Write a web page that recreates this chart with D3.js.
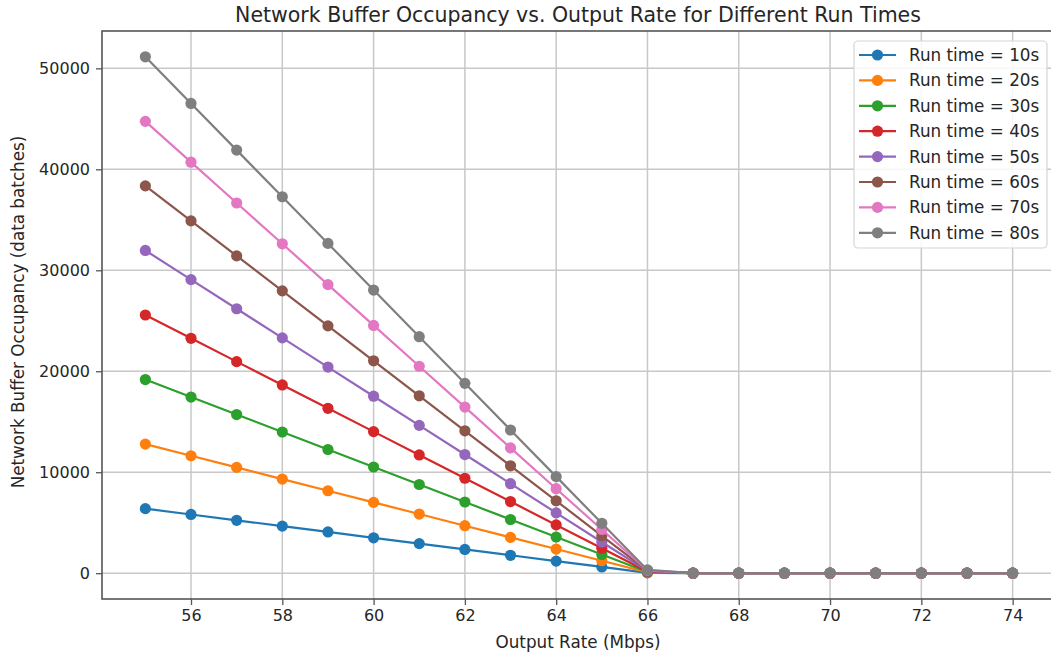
<!DOCTYPE html>
<html>
<head>
<meta charset="utf-8">
<script src="https://cdn.jsdelivr.net/npm/d3@7"></script>
<style>
  html, body { margin: 0; padding: 0; background: #fff; }
  svg { display: block; font-family: "DejaVu Sans", sans-serif; }
</style>
</head>
<body>
<svg id="chart" width="1051" height="657"></svg>
<script>
// ---- data ----
const outputRates = [55, 56, 57, 58, 59, 60, 61, 62, 63, 64, 65, 66, 67, 68, 69, 70, 71, 72, 73, 74];
const seriesNames = ["Run time = 10s", "Run time = 20s", "Run time = 30s", "Run time = 40s",
                     "Run time = 50s", "Run time = 60s", "Run time = 70s", "Run time = 80s"];
const run10 = [6393, 5815, 5238, 4660, 4083, 3505, 2928, 2350, 1773, 1195, 618, 40, 0, 0, 0, 0, 0, 0, 0, 0];
const run20 = [12786, 11631, 10476, 9321, 8166, 7011, 5856, 4701, 3546, 2391, 1236, 81, 0, 0, 0, 0, 0, 0, 0, 0];
const run30 = [19179, 17446, 15714, 13981, 12249, 10516, 8784, 7051, 5319, 3586, 1854, 121, 0, 0, 0, 0, 0, 0, 0, 0];
const run40 = [25572, 23262, 20952, 18642, 16332, 14022, 11712, 9402, 7092, 4782, 2472, 162, 0, 0, 0, 0, 0, 0, 0, 0];
const run50 = [31965, 29077, 26190, 23302, 20415, 17527, 14640, 11752, 8865, 5977, 3090, 202, 0, 0, 0, 0, 0, 0, 0, 0];
const run60 = [38358, 34892, 31427, 27962, 24497, 21032, 17567, 14102, 10637, 7172, 3707, 242, 0, 0, 0, 0, 0, 0, 0, 0];
const run70 = [44751, 40708, 36665, 32623, 28580, 24538, 20495, 16453, 12410, 8368, 4325, 283, 0, 0, 0, 0, 0, 0, 0, 0];
const run80 = [51143, 46523, 41903, 37283, 32663, 28043, 23423, 18803, 14183, 9563, 4943, 323, 0, 0, 0, 0, 0, 0, 0, 0];
const seriesValues = [run10, run20, run30, run40, run50, run60, run70, run80];
const xTicks = [56, 58, 60, 62, 64, 66, 68, 70, 72, 74];
const yTicks = [0, 10000, 20000, 30000, 40000, 50000];
const colors = ["#1f77b4", "#ff7f0e", "#2ca02c", "#d62728", "#9467bd", "#8c564b", "#e377c2", "#7f7f7f"];
const titleText = "Network Buffer Occupancy vs. Output Rate for Different Run Times";
const xLabelText = "Output Rate (Mbps)";
const yLabelText = "Network Buffer Occupancy (data batches)";

// ---- layout ----
(function () {
const svg = d3.select("#chart");
const pl = 102, pr = 1056, pt = 31, pb = 599;

const x = d3.scaleLinear().domain([54.05, 74.95]).range([pl, pr]);
const y = d3.scaleLinear().domain([-2557, 53700]).range([pb, pt]);

const textColor = "#262626";

// grid
const grid = svg.append("g");
grid.selectAll("line.vx").data(xTicks).join("line")
  .attr("x1", d => x(d)).attr("x2", d => x(d))
  .attr("y1", pt).attr("y2", pb)
  .attr("stroke", "#c8c8c8").attr("stroke-width", 1.5);
grid.selectAll("line.hy").data(yTicks).join("line")
  .attr("x1", pl).attr("x2", pr)
  .attr("y1", d => y(d)).attr("y2", d => y(d))
  .attr("stroke", "#c8c8c8").attr("stroke-width", 1.5);

// series
const line = d3.line().x((d, i) => x(outputRates[i])).y(d => y(d));
seriesValues.forEach((vals, k) => {
  const g = svg.append("g");
  g.append("path").datum(vals)
    .attr("d", line)
    .attr("fill", "none")
    .attr("stroke", colors[k])
    .attr("stroke-width", 2.2);
  g.selectAll("circle").data(vals).join("circle")
    .attr("cx", (d, i) => x(outputRates[i]))
    .attr("cy", d => y(d))
    .attr("r", 5.6)
    .attr("fill", colors[k]);
});

// axes
const xAxis = svg.append("g").attr("transform", `translate(0,${pb})`)
  .call(d3.axisBottom(x).tickValues(xTicks).tickSize(6).tickPadding(5).tickFormat(d3.format("d")));
const yAxis = svg.append("g").attr("transform", `translate(${pl},0)`)
  .call(d3.axisLeft(y).tickValues(yTicks).tickSize(6).tickPadding(6).tickFormat(d3.format("d")));
[xAxis, yAxis].forEach(a => {
  a.select(".domain").remove();
  a.selectAll(".tick line").attr("stroke", "#555").attr("stroke-width", 1.3);
  a.selectAll(".tick text").attr("fill", textColor).style("font-size", "16px")
    .style("font-family", "DejaVu Sans, sans-serif");
});

// frame
svg.append("rect")
  .attr("x", pl).attr("y", pt)
  .attr("width", pr - pl).attr("height", pb - pt)
  .attr("fill", "none").attr("stroke", "#555").attr("stroke-width", 1.6);

// title & labels
svg.append("text")
  .attr("x", 578).attr("y", 22)
  .attr("text-anchor", "middle")
  .attr("fill", textColor)
  .style("font-size", "20.5px")
  .text(titleText);

svg.append("text")
  .attr("x", 578).attr("y", 648)
  .attr("text-anchor", "middle")
  .attr("fill", textColor)
  .style("font-size", "16.8px")
  .text(xLabelText);

svg.append("text")
  .attr("transform", `translate(24,${(pt + pb) / 2 - 3}) rotate(-90)`)
  .attr("text-anchor", "middle")
  .attr("fill", textColor)
  .style("font-size", "16.8px")
  .text(yLabelText);

// legend
const lg = svg.append("g");
lg.append("rect")
  .attr("x", 854).attr("y", 41)
  .attr("width", 193).attr("height", 207)
  .attr("rx", 4).attr("ry", 4)
  .attr("fill", "#fff").attr("fill-opacity", 0.85)
  .attr("stroke", "#d5d5d5").attr("stroke-width", 1.2);
seriesNames.forEach((name, k) => {
  const yy = 55 + k * 25.4;
  lg.append("line")
    .attr("x1", 859).attr("x2", 896)
    .attr("y1", yy).attr("y2", yy)
    .attr("stroke", colors[k]).attr("stroke-width", 2.2);
  lg.append("circle")
    .attr("cx", 877.5).attr("cy", yy).attr("r", 5.6)
    .attr("fill", colors[k]);
  lg.append("text")
    .attr("x", 909).attr("y", yy)
    .attr("dy", "0.36em")
    .attr("fill", textColor)
    .style("font-size", "16.8px")
    .text(name);
});
})();
</script>
</body>
</html>
